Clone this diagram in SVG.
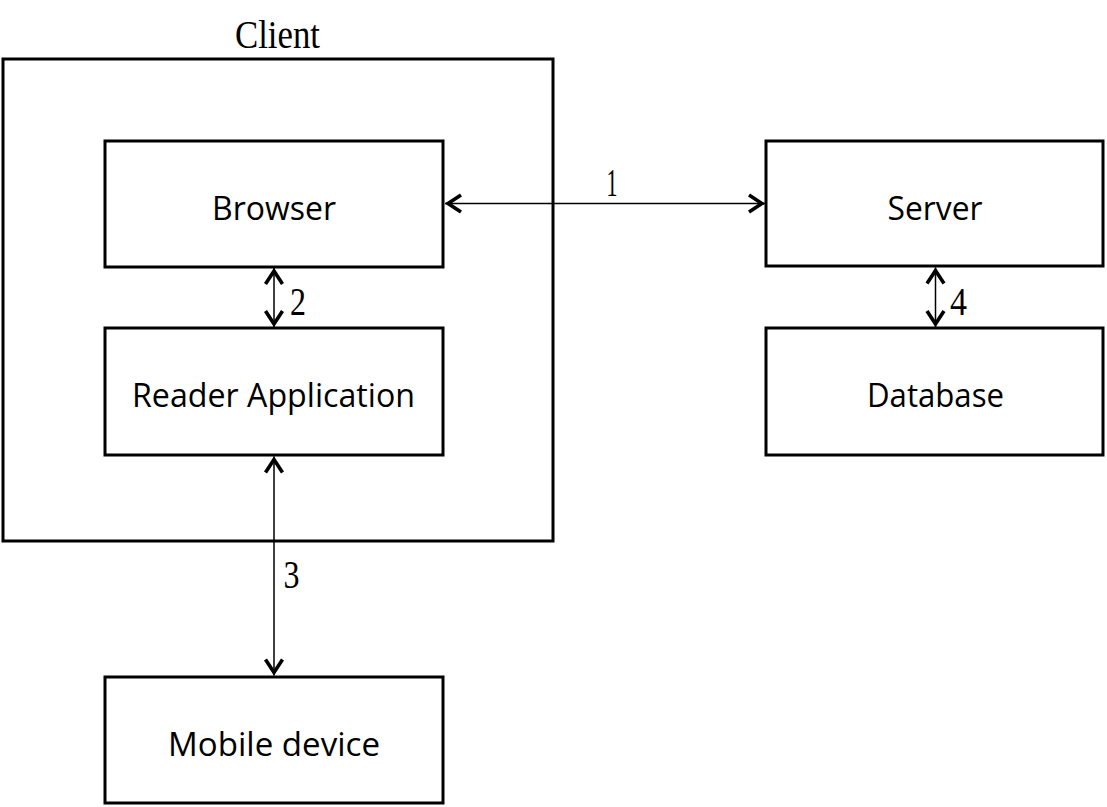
<svg xmlns="http://www.w3.org/2000/svg" width="1107" height="807" viewBox="0 0 1107 807">
<style>
.box{fill:none;stroke:#000;stroke-width:3}
.lbl{font-family:"Open Sans","Liberation Sans",sans-serif;font-size:32px;fill:#000;text-anchor:middle}
.num{font-family:"Liberation Serif","DejaVu Serif",serif;font-size:39px;fill:#000;text-anchor:middle}
.conn{stroke:#000;stroke-width:1.5;fill:none;marker-start:url(#ah);marker-end:url(#ah)}
</style>
<defs>
<marker id="ah" markerUnits="userSpaceOnUse" markerWidth="40" markerHeight="40" viewBox="-20 -20 40 40" refX="0" refY="0" orient="auto-start-reverse" overflow="visible">
<path d="M-16,-8.5 L-3,0 L-16,8.5" fill="none" stroke="#000" stroke-width="3.6"/>
</marker>
</defs>
<rect width="1107" height="807" fill="#fff"/>
<g id="client">
<rect class="box" x="3" y="59" width="550" height="482"/>
<text class="num" x="277.5" y="48" textLength="85" lengthAdjust="spacingAndGlyphs">Client</text>
</g>
<g id="browser">
<rect class="box" x="105" y="141" width="338" height="126"/>
<text class="lbl" x="274" y="220" textLength="124" lengthAdjust="spacingAndGlyphs">Browser</text>
</g>
<g id="reader">
<rect class="box" x="105" y="328" width="338" height="127"/>
<text class="lbl" x="273.5" y="407" textLength="283" lengthAdjust="spacingAndGlyphs">Reader Application</text>
</g>
<g id="server">
<rect class="box" x="766" y="141" width="337" height="125"/>
<text class="lbl" x="935" y="220" textLength="95" lengthAdjust="spacingAndGlyphs">Server</text>
</g>
<g id="database">
<rect class="box" x="766" y="328" width="337" height="127"/>
<text class="lbl" x="935.5" y="407" textLength="137" lengthAdjust="spacingAndGlyphs">Database</text>
</g>
<g id="mobile">
<rect class="box" x="105" y="677" width="338" height="126"/>
<text class="lbl" x="274" y="756" textLength="212" lengthAdjust="spacingAndGlyphs">Mobile device</text>
</g>
<g id="connectors">
<line class="conn" x1="445" y1="203.5" x2="765" y2="203.5"/>
<text class="num" x="612" y="196" textLength="11" lengthAdjust="spacingAndGlyphs">1</text>
<line class="conn" x1="274" y1="268" x2="274" y2="327"/>
<text class="num" x="298" y="315" textLength="16" lengthAdjust="spacingAndGlyphs">2</text>
<line class="conn" x1="274" y1="456.5" x2="274" y2="675.5"/>
<text class="num" x="291.5" y="588" textLength="16" lengthAdjust="spacingAndGlyphs">3</text>
<line class="conn" x1="935.5" y1="267.5" x2="935.5" y2="327"/>
<text class="num" x="958.5" y="315" textLength="17" lengthAdjust="spacingAndGlyphs">4</text>
</g>
</svg>
